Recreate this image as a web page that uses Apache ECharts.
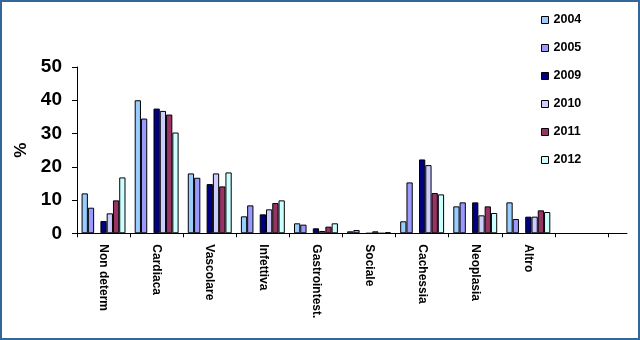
<!DOCTYPE html>
<html>
<head>
<meta charset="utf-8">
<script src="https://cdn.jsdelivr.net/npm/echarts@6/dist/echarts.min.js"></script>
<style>
  html, body { margin: 0; padding: 0; background: #fff; }
  #chart { width: 640px; height: 340px; box-sizing: border-box; border: 2px solid #336699; }
</style>
</head>
<body>
<div id="chart"></div>
<script>
// Causes of death by category, % per year
const categories = ['Non determ', 'Cardiaca', 'Vascolare', 'Infettiva', 'Gastrointest.', 'Sociale', 'Cachessia', 'Neoplasia', 'Altro', ''];
const years = ['2004', '2005', '2009', '2010', '2011', '2012'];
const v2004 = [12.0, 40.0, 18.0, 5.1, 3.0, 0.6, 3.6, 8.1, 9.3];
const v2005 = [7.7, 34.5, 16.7, 8.4, 2.6, 1.0, 15.3, 9.3, 4.3];
const v2009 = [3.7, 37.5, 14.8, 5.7, 1.5, 0, 22.2, 9.3, 5.0];
const v2010 = [6.0, 36.8, 18.0, 7.2, 0.7, 0.6, 20.5, 5.4, 5.0];
const v2011 = [9.9, 35.7, 14.1, 9.1, 2.0, 0, 12.1, 8.1, 6.9];
const v2012 = [16.8, 30.3, 18.3, 9.9, 3.0, 0.3, 11.7, 6.1, 6.4];
const yTicks = [0, 10, 20, 30, 40, 50];

const colors = {
  '2004': '#99CCFF', '2005': '#9999FF', '2009': '#000080',
  '2010': '#CCCCFF', '2011': '#993366', '2012': '#CCFFFF'
};
const font = '"Liberation Sans", Arial, sans-serif';

function bar(name, data) {
  return {
    name: name,
    type: 'bar',
    data: data,
    barGap: '0%',
    barCategoryGap: '17.3%',
    itemStyle: { color: colors[name], borderColor: '#000', borderWidth: 1 },
    emphasis: { disabled: true }
  };
}

const chart = echarts.init(document.getElementById('chart'), null, { renderer: 'canvas' });
chart.setOption({
  animation: false,
  textStyle: { fontFamily: font },
  grid: [
    { left: 75, top: 65, right: 30, bottom: 104.7 },
    { left: 75, top: 65, right: 11, bottom: 104.7 }
  ],
  legend: {
    data: years,
    orient: 'vertical',
    left: 534,
    top: 6,
    itemWidth: 7,
    itemHeight: 7,
    itemGap: 14,
    icon: 'rect',
    itemStyle: { borderColor: '#000', borderWidth: 1 },
    textStyle: { fontFamily: font, fontWeight: 'bold', fontSize: 12.5, color: '#000', lineHeight: 14 },
    selectedMode: false
  },
  xAxis: [
    {
      type: 'category',
      data: categories,
      gridIndex: 0,
      axisLine: { lineStyle: { color: '#000', width: 1 } },
      axisTick: { show: true, length: 4, alignWithLabel: false, lineStyle: { color: '#000' } },
      axisLabel: {
        rotate: -90,
        margin: 11,
        interval: 0,
        fontFamily: font,
        fontWeight: 'bold',
        fontSize: 12,
        color: '#000'
      },
      splitLine: { show: false }
    },
    {
      type: 'value',
      gridIndex: 1,
      min: 0, max: 1,
      axisLine: { show: true, onZero: false, lineStyle: { color: '#000', width: 1 } },
      axisTick: { show: false },
      axisLabel: { show: false },
      splitLine: { show: false }
    }
  ],
  yAxis: [
    {
      type: 'value',
      gridIndex: 0,
      min: yTicks[0],
      max: yTicks[yTicks.length - 1],
      interval: 10,
      name: '%',
      nameLocation: 'middle',
      nameRotate: 90,
      nameGap: 47,
      nameTextStyle: { fontFamily: font, fontWeight: 'bold', fontSize: 17, color: '#000' },
      axisLine: { show: true, lineStyle: { color: '#000', width: 1 } },
      axisTick: { show: true, length: 5, lineStyle: { color: '#000' } },
      axisLabel: { margin: 15, fontFamily: font, fontWeight: 'bold', fontSize: 19, color: '#000' },
      splitLine: { show: false }
    },
    {
      type: 'value',
      gridIndex: 1,
      show: false,
      min: 0, max: 1
    }
  ],
  series: [
    bar('2004', v2004),
    bar('2005', v2005),
    // empty slot between 2005 and 2009
    { name: ' ', type: 'bar', data: [], barGap: '0%', barCategoryGap: '17.3%' },
    bar('2009', v2009),
    bar('2010', v2010),
    bar('2011', v2011),
    bar('2012', v2012)
  ]
});
</script>
</body>
</html>
